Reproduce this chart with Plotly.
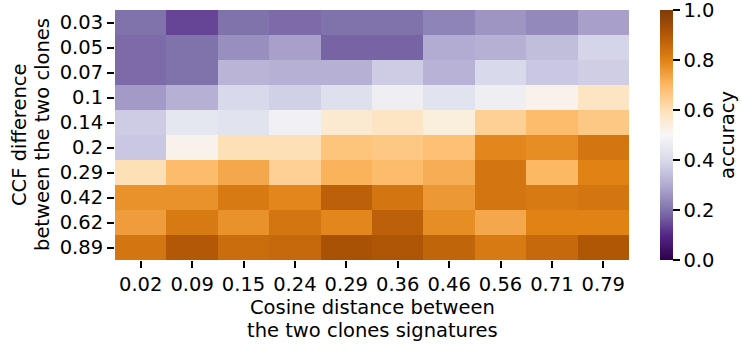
import plotly.graph_objects as go

# Cosine distance between clone signatures (columns)
cosine_dist = ["0.02", "0.09", "0.15", "0.24", "0.29", "0.36", "0.46", "0.56", "0.71", "0.79"]
# CCF difference between the two clones (rows, top to bottom)
ccf_diff = ["0.03", "0.05", "0.07", "0.1", "0.14", "0.2", "0.29", "0.42", "0.62", "0.89"]

# Accuracy for each (CCF difference, cosine distance) pair
acc_003 = [0.20, 0.14, 0.20, 0.19, 0.20, 0.20, 0.23, 0.26, 0.24, 0.28]
acc_005 = [0.19, 0.20, 0.25, 0.28, 0.18, 0.18, 0.30, 0.31, 0.34, 0.39]
acc_007 = [0.19, 0.20, 0.32, 0.31, 0.31, 0.37, 0.315, 0.40, 0.36, 0.375]
acc_010 = [0.27, 0.31, 0.40, 0.38, 0.42, 0.47, 0.43, 0.47, 0.52, 0.58]
acc_014 = [0.37, 0.44, 0.43, 0.48, 0.56, 0.58, 0.54, 0.64, 0.69, 0.66]
acc_020 = [0.36, 0.52, 0.60, 0.60, 0.67, 0.66, 0.68, 0.79, 0.78, 0.83]
acc_029 = [0.60, 0.69, 0.73, 0.64, 0.71, 0.69, 0.72, 0.83, 0.70, 0.80]
acc_042 = [0.77, 0.77, 0.82, 0.79, 0.88, 0.83, 0.76, 0.83, 0.82, 0.83]
acc_062 = [0.75, 0.82, 0.77, 0.83, 0.79, 0.88, 0.78, 0.73, 0.80, 0.80]
acc_089 = [0.83, 0.90, 0.85, 0.86, 0.92, 0.91, 0.87, 0.82, 0.86, 0.905]

accuracy = [acc_003, acc_005, acc_007, acc_010, acc_014,
            acc_020, acc_029, acc_042, acc_062, acc_089]

# Colorbar ticks
cbar_ticks = [0.0, 0.2, 0.4, 0.6, 0.8, 1.0]

# Axis title lines
x_title_lines = ["Cosine distance between", "the two clones signatures"]
y_title_lines = ["CCF difference", "between the two clones"]

# Diverging purple-orange scale (low = purple, high = brown)
puor_r = ["#2d004b", "#542788", "#8073ac", "#b2abd2", "#d8daeb", "#f7f7f7",
          "#fee0b6", "#fdb863", "#e08214", "#b35806", "#7f3b08"]
colorscale = [[i / 10, c] for i, c in enumerate(puor_r)]

font_family = "DejaVu Sans"
fs = 19.5
black_font = dict(family=font_family, size=fs, color="black")

fig = go.Figure(
    go.Heatmap(
        z=accuracy,
        x=cosine_dist,
        y=ccf_diff,
        zmin=0,
        zmax=1,
        colorscale=colorscale,
        colorbar=dict(
            x=1.06,
            xanchor="left",
            xpad=0,
            y=0.5,
            len=1,
            lenmode="fraction",
            ypad=0,
            thickness=13,
            outlinewidth=0,
            tickmode="array",
            tickvals=cbar_ticks,
            ticktext=[f"{v:.1f}" for v in cbar_ticks],
            ticklabeloverflow="allow",
            ticks="outside",
            ticklen=7,
            tickwidth=1.5,
            tickcolor="black",
            tickfont=black_font,
            title=dict(text="accuracy", side="right", font=black_font),
        ),
        hovertemplate="x=%{x}<br>y=%{y}<br>acc=%{z}<extra></extra>",
    )
)

axis_style = dict(
    type="category",
    ticks="outside",
    ticklen=7,
    tickwidth=1.5,
    tickcolor="black",
    showline=False,
    showgrid=False,
    zeroline=False,
    tickfont=black_font,
)
fig.update_xaxes(**axis_style)
fig.update_yaxes(autorange="reversed", **axis_style)

annotations = []
for text, shift in zip(x_title_lines, [-47, -70]):
    annotations.append(dict(
        text=text, xref="paper", yref="paper", x=0.5, y=0,
        xanchor="center", yanchor="middle", yshift=shift,
        showarrow=False, font=black_font,
    ))
for text, shift in zip(y_title_lines, [-96, -73]):
    annotations.append(dict(
        text=text, xref="paper", yref="paper", x=0, y=0.5,
        xanchor="center", yanchor="middle", xshift=shift,
        textangle=-90, showarrow=False, font=black_font,
    ))

fig.update_layout(
    width=742,
    height=346,
    margin=dict(l=115, r=113, t=10, b=86, autoexpand=False),
    paper_bgcolor="white",
    plot_bgcolor="white",
    font=black_font,
    annotations=annotations,
)

fig.write_html("out.html")
